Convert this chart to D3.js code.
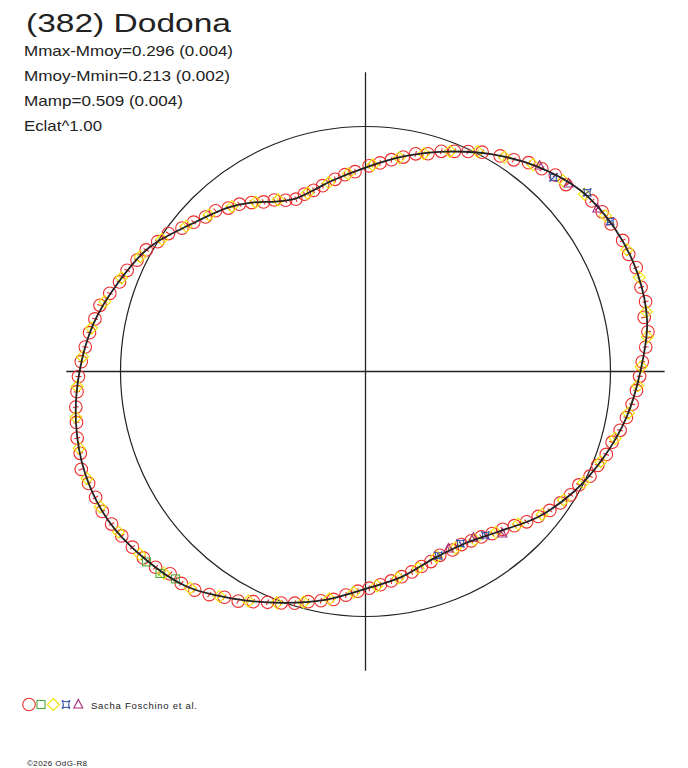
<!DOCTYPE html>
<html>
<head>
<meta charset="utf-8">
<script src="https://cdn.jsdelivr.net/npm/d3@7"></script>
<style>
  body { margin: 0; background: #fff; }
  svg { display: block; }
  text { font-family: "Liberation Sans", Arial, sans-serif; fill: #222; }
</style>
</head>
<body>
<svg id="svg" width="688" height="768"></svg>
<script>
// (382) Dodona - polar lightcurve, magnitudes relative to mean (dm), angle = phase in degrees
var title = "(382) Dodona";
var infoLines = ["Mmax-Mmoy=0.296 (0.004)", "Mmoy-Mmin=0.213 (0.002)", "Mamp=0.509 (0.004)", "Eclat^1.00"];
var eclatPow = 1.00;
var credit = "Sacha Foschino et al.";
var copyright = "\u00a92026 OdG-R8";

// fitted curve
var modelAngles = [0, 10, 20, 30, 40, 50, 60, 70, 80, 90, 100, 106, 112, 118, 124, 130, 140, 150, 160, 170, 180, 190, 200, 210, 220, 230, 240, 250, 260, 270, 280, 290, 300, 310, 320, 330, 340, 350];
var modelMags = [-0.125, -0.168, -0.180, -0.173, -0.150, -0.095, -0.026, 0.050, 0.125, 0.199, 0.255, 0.284, 0.296, 0.262, 0.200, 0.147, 0.075, -0.018, -0.075, -0.130, -0.168, -0.198, -0.214, -0.210, -0.182, -0.145, -0.075, -0.005, 0.060, 0.130, 0.175, 0.225, 0.228, 0.175, 0.088, 0.020, -0.035, -0.085];

// observations, one pair of arrays per session
var redAngles = [2, 5, 8, 11, 14, 17, 21, 24, 27, 31, 34, 37, 43, 46, 49, 52, 55, 58, 62, 65, 68, 71, 74, 77, 80, 83, 86, 89, 93, 96, 99, 103, 106, 109, 112, 115, 118, 121, 124, 127, 130, 133, 136, 139, 142, 145, 148, 151, 154, 157, 160, 163, 166, 169, 172, 175, 178, 181, 184, 187, 190, 193, 196, 199, 202, 205, 208, 211, 214, 217, 220, 223, 226, 229, 232, 235, 238, 241, 244, 247, 250, 253, 256, 259, 262, 265, 268, 271, 274, 277, 280, 283, 286, 289, 292, 296, 299, 302, 305, 308, 311, 314, 317, 320, 323, 326, 329, 332, 335, 338, 341, 344, 347, 350, 353, 356, 359];
var redMags = [-0.133, -0.150, -0.165, -0.160, -0.178, -0.176, -0.183, -0.176, -0.178, -0.170, -0.166, -0.158, -0.122, -0.118, -0.100, -0.085, -0.058, -0.040, -0.015, 0.010, 0.034, 0.055, 0.085, 0.100, 0.128, 0.150, 0.172, 0.190, 0.220, 0.232, 0.250, 0.272, 0.285, 0.290, 0.300, 0.282, 0.252, 0.232, 0.200, 0.170, 0.150, 0.118, 0.105, 0.080, 0.055, 0.020, 0.000, -0.025, -0.040, -0.060, -0.072, -0.095, -0.120, -0.128, -0.140, -0.150, -0.162, -0.172, -0.180, -0.190, -0.196, -0.205, -0.208, -0.222, -0.215, -0.212, -0.213, -0.206, -0.198, -0.190, -0.183, -0.172, -0.150, -0.148, -0.135, -0.115, -0.090, -0.075, -0.048, -0.025, -0.006, 0.012, 0.035, 0.052, 0.068, 0.095, 0.118, 0.133, 0.148, 0.162, 0.176, 0.190, 0.205, 0.215, 0.230, 0.228, 0.232, 0.222, 0.210, 0.190, 0.172, 0.145, 0.115, 0.090, 0.065, 0.045, 0.025, 0.015, -0.012, -0.024, -0.042, -0.050, -0.070, -0.085, -0.100, -0.112, -0.122];

var yellowAngles = [1, 7, 12, 19, 25, 33, 39, 44, 51, 57, 63, 69, 75, 81, 88, 95, 101, 108, 117, 123, 129, 135, 141, 147, 153, 159, 165, 171, 177, 183, 189, 195, 201, 207, 213, 219, 225, 231, 237, 243, 249, 255, 261, 267, 273, 279, 285, 291, 297, 303, 309, 315, 321, 327, 333, 339, 345, 351, 357];
var yellowMags = [-0.128, -0.160, -0.172, -0.181, -0.177, -0.168, -0.152, -0.124, -0.090, -0.045, -0.008, 0.042, 0.090, 0.135, 0.185, 0.228, 0.262, 0.290, 0.262, 0.210, 0.155, 0.110, 0.065, 0.010, -0.035, -0.070, -0.105, -0.135, -0.158, -0.178, -0.195, -0.207, -0.214, -0.212, -0.200, -0.185, -0.165, -0.140, -0.098, -0.055, -0.012, 0.028, 0.068, 0.110, 0.143, 0.172, 0.200, 0.228, 0.230, 0.218, 0.182, 0.138, 0.082, 0.040, 0.002, -0.030, -0.058, -0.090, -0.116];

var greenAngles = [221, 224.5, 227.5];
var greenMags = [-0.184, -0.176, -0.150];

var blueAngles = [31.5, 38.9, 45.9, 291.6, 298.9, 306.2];
var blueMags = [-0.172, -0.164, -0.106, 0.231, 0.240, 0.204];

var purpleAngles = [35.1, 42.8, 49.8, 295.1, 303, 310.2];
var purpleMags = [-0.158, -0.132, -0.104, 0.245, 0.231, 0.157];

var svg = d3.select("#svg");
var cx = 365.5, cy = 371.5;
var rScale = d3.scaleLinear().domain([0, 1]).range([0, 245]);
var aScale = d3.scaleLinear().domain([0, 360]).range([0, 2 * Math.PI]);

function flux(dm) { return Math.pow(Math.pow(10, -0.4 * dm), eclatPow); }
function pos(a, dm, dr) {
  var t = aScale(a), r = rScale(flux(dm)) + (dr || 0);
  return [cx + r * Math.cos(t), cy - r * Math.sin(t)];
}

// reference circle and axes
svg.append("circle").attr("cx", cx).attr("cy", cy).attr("r", rScale(1))
  .attr("fill", "none").attr("stroke", "#222").attr("stroke-width", 1.2);
var ext = rScale(1.221);
svg.append("line").attr("x1", cx - ext).attr("x2", cx + ext).attr("y1", cy).attr("y2", cy)
  .attr("stroke", "#222").attr("stroke-width", 1.3);
svg.append("line").attr("x1", cx).attr("x2", cx).attr("y1", cy - ext).attr("y2", cy + ext)
  .attr("stroke", "#222").attr("stroke-width", 1.3);

// marker shapes
function starPath(s) {
  return "M" + (-s) + "," + (-s) + "Q0," + (-s * 0.35) + " " + s + "," + (-s) +
    "Q" + (s * 0.35) + ",0 " + s + "," + s +
    "Q0," + (s * 0.35) + " " + (-s) + "," + s +
    "Q" + (-s * 0.35) + ",0 " + (-s) + "," + (-s) + "Z";
}
var shapes = {
  circle: function(g) { g.append("circle").attr("r", 6.3); },
  square: function(g) { g.append("rect").attr("x", -4).attr("y", -4).attr("width", 8).attr("height", 8); },
  diamond: function(g) { g.append("path").attr("d", "M0,-6L6,0L0,6L-6,0Z"); },
  star: function(g) { g.append("path").attr("d", starPath(4)); },
  triangle: function(g) { g.append("path").attr("d", "M0,-5L4.5,3.5L-4.5,3.5Z"); }
};

var series = [
  {angles: redAngles, mags: redMags, color: "#ee2b2b", shape: "circle"},
  {angles: yellowAngles, mags: yellowMags, color: "#f2e400", shape: "diamond"},
  {angles: greenAngles, mags: greenMags, color: "#4fae3c", shape: "square"},
  {angles: blueAngles, mags: blueMags, color: "#3550a8", shape: "star"},
  {angles: purpleAngles, mags: purpleMags, color: "#a52a7a", shape: "triangle"}
];

series.forEach(function(s) {
  var pts = s.angles.map(function(a, i) { return {a: a, m: s.mags[i]}; });
  var grp = svg.append("g").attr("fill", "none").attr("stroke", s.color).attr("stroke-width", 1.1);
  // error ticks
  grp.selectAll("line").data(pts).enter().append("line")
    .attr("x1", function(d) { return pos(d.a, d.m, -3)[0]; })
    .attr("y1", function(d) { return pos(d.a, d.m, -3)[1]; })
    .attr("x2", function(d) { return pos(d.a, d.m, 3)[0]; })
    .attr("y2", function(d) { return pos(d.a, d.m, 3)[1]; });
  grp.selectAll("g").data(pts).enter().append("g")
    .attr("transform", function(d) { var p = pos(d.a, d.m); return "translate(" + p[0] + "," + p[1] + ")"; })
    .each(function() { shapes[s.shape](d3.select(this)); });
});

// fitted curve on top
var curvePts = modelAngles.map(function(a, i) { return pos(a, modelMags[i]); });
svg.append("path")
  .attr("d", d3.line().curve(d3.curveCatmullRomClosed.alpha(0.5))(curvePts))
  .attr("fill", "none").attr("stroke", "#222").attr("stroke-width", 1.8);

// texts
svg.append("text").attr("x", 26).attr("y", 32).attr("font-size", 25)
  .attr("textLength", 205).attr("lengthAdjust", "spacingAndGlyphs").text(title);
var lineW = [209, 206, 159, 78];
infoLines.forEach(function(t, i) {
  svg.append("text").attr("x", 24).attr("y", 56 + i * 25).attr("font-size", 14.5)
    .attr("textLength", lineW[i]).attr("lengthAdjust", "spacingAndGlyphs").text(t);
});

// legend: circle, square, diamond, star, triangle
var legendOrder = ["circle", "square", "diamond", "star", "triangle"];
var legendX = [29, 41, 53.3, 66, 78.3];
legendOrder.forEach(function(shape, i) {
  var s = series.filter(function(d) { return d.shape === shape; })[0];
  var g = svg.append("g").attr("transform", "translate(" + legendX[i] + ",704.5)")
    .attr("fill", "none").attr("stroke", s.color).attr("stroke-width", 1.1);
  shapes[shape](g);
});
svg.append("text").attr("x", 91).attr("y", 709).attr("font-size", 9.5)
  .attr("textLength", 106).attr("lengthAdjust", "spacing").text(credit);
svg.append("text").attr("x", 27).attr("y", 766).attr("font-size", 8)
  .attr("textLength", 60).attr("lengthAdjust", "spacing").text(copyright);
</script>
</body>
</html>
